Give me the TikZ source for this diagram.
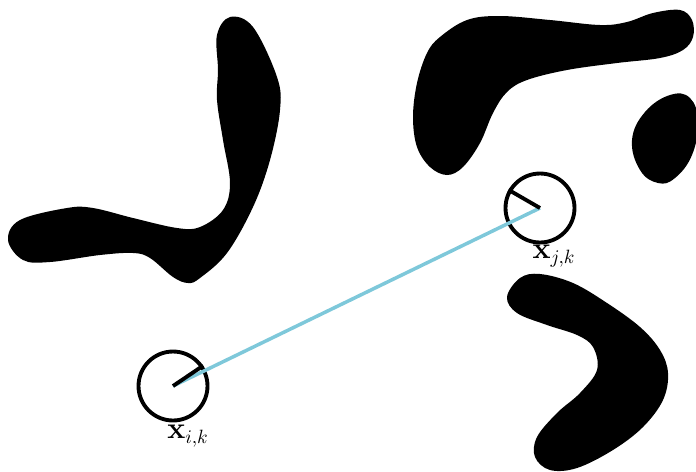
\documentclass[tikz,border=0pt]{standalone}
\usepackage{amsmath}
\usepackage{tikz}
\usetikzlibrary{positioning,calc}
\definecolor{LinkBlue}{RGB}{126,200,218}

\begin{document}
\begin{tikzpicture}[x=0.02cm,y=-0.02cm,
        obstacle/.style={fill=black},
        robot/.style={circle,draw=black,line width=2.2pt,minimum size=1.38cm,inner sep=0pt},
        heading/.style={draw=black,line width=2.2pt},
        link/.style={draw=LinkBlue,line width=2pt},
        poslabel/.style={font=\fontsize{16}{18}\selectfont}
    ]
    \useasboundingbox (0,0) rectangle (696,471);

    % vật cản (obstacles)
    \fill[obstacle] plot[smooth cycle,tension=0.6] coordinates {
        (230,17) (253,27) (277,77) (280,110) (270,160) (253,207) (227,253) (200,278) (188,283)
        (173,277) (150,258) (133,253) (100,255) (50,262) (23,260) (8,240) (20,220)
        (67,208) (93,208) (133,218) (177,228) (200,227) (223,210) (230,183) (223,140)
        (217,100) (218,70) (217,35)};
    \fill[obstacle] plot[smooth cycle,tension=0.6] coordinates {
        (467,20) (500,16) (550,20) (600,25) (627,22) (653,13) (680,10) (692,20) (693,37)
        (683,50) (660,58) (617,63) (567,70) (527,80) (507,92) (493,113) (480,143)
        (463,167) (447,175) (430,167) (417,147) (413,117) (417,83) (427,53) (440,37)};
    \fill[obstacle] plot[smooth cycle,tension=0.7] coordinates {
        (632,140) (645,112) (670,95) (690,98) (698,122) (692,155) (675,178) (658,183) (640,170)};
    \fill[obstacle] plot[smooth cycle,tension=0.6] coordinates {
        (507,297) (520,278) (540,274) (573,283) (607,303) (640,327) (660,350) (668,373)
        (663,400) (643,427) (613,450) (577,468) (550,470) (535,457) (537,437) (557,413)
        (580,393) (597,370) (593,347) (577,335) (547,325) (517,313)};

    % robot i va j
    \node[robot] (xi) at (173,386) {};
    \node[robot] (xj) at (540,208) {};
    \draw[link] (xi.center) -- (xj.center);
    \draw[heading] (xi.center) -- (xi.34);
    \draw[heading] (xj.center) -- (xj.150);

    \node[poslabel] (li) at (188,436) {$\mathbf{x}_{i,k}$};
    \node[poslabel] (lj) at (554,256) {$\mathbf{x}_{j,k}$};
\end{tikzpicture}
\end{document}
